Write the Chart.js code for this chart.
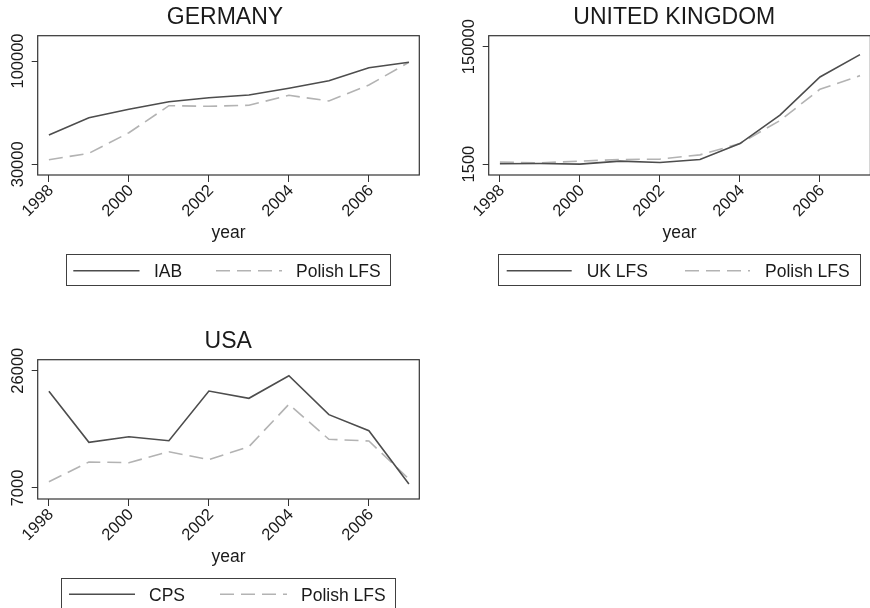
<!DOCTYPE html>
<html><head><meta charset="utf-8">
<script src="https://cdn.jsdelivr.net/npm/chart.js@4.4.1/dist/chart.umd.min.js"></script>
<style>
html,body{margin:0;padding:0;background:#fff;overflow:hidden;}
#page{position:relative;width:870px;height:608px;overflow:hidden;background:#fff;}
canvas{position:absolute;}
.legend{position:absolute;box-sizing:border-box;border:1px solid #404040;}
.lt{position:absolute;font-family:"Liberation Sans",Arial,Helvetica,sans-serif;font-size:17.5px;color:#1a1a1a;line-height:20px;white-space:nowrap;}
#ls{position:absolute;left:0;top:0;}
</style></head><body><div id="page">
<canvas id="cDE" width="450" height="245" style="left:0px;top:0px"></canvas>
<canvas id="cUK" width="450" height="245" style="left:451px;top:0px"></canvas>
<canvas id="cUS" width="450" height="245" style="left:0px;top:324px"></canvas>
<svg id="ls" width="870" height="608"></svg>
</div>
<script>
// ---- data ----
const years = [1998, 1999, 2000, 2001, 2002, 2003, 2004, 2005, 2006, 2007];
const xTickValues = [1998, 2000, 2002, 2004, 2006];

const deTitle = 'GERMANY';
const deNames = ['IAB', 'Polish LFS'];
const deIAB = [49850, 61570, 67270, 72420, 75130, 76960, 81500, 86650, 95460, 99120];
const dePolishLFS = [33110, 37450, 51410, 69710, 69300, 69980, 76760, 72890, 83740, 99120];
const deYTicks = [30000, 100000];

const ukTitle = 'UNITED KINGDOM';
const ukNames = ['UK LFS', 'Polish LFS'];
const ukLFS = [1900, 2200, 1500, 5300, 3500, 7300, 27500, 63400, 111700, 139900];
const ukPolishLFS = [4000, 3100, 5300, 7300, 7800, 13200, 27500, 56600, 96200, 113400];
const ukYTicks = [1500, 150000];

const usTitle = 'USA';
const usNames = ['CPS', 'Polish LFS'];
const usCPS = [22670, 14400, 15310, 14660, 22710, 21530, 25190, 18880, 16280, 7650];
const usPolishLFS = [8020, 11210, 11100, 12880, 11590, 13690, 20560, 14890, 14610, 8460];
const usYTicks = [7000, 26000];

const xAxisTitle = 'year';

// ---- styles ----
const FONT = '"Liberation Sans", Arial, Helvetica, sans-serif';
const SOLID = '#4d4d4d';
const DASH = '#b3b3b3';
const AXIS = '#333333';
const TXT = '#1a1a1a';
const DASHPAT = [14, 7];
const TICKSIZE = 16.5;

function measure(txt, size) {
  const c = document.createElement('canvas').getContext('2d');
  c.font = size + 'px ' + FONT;
  return c.measureText(txt).width;
}

const boxPlugin = {
  id: 'plotbox',
  afterDatasetsDraw(chart) {
    const {ctx, chartArea: a} = chart;
    ctx.save();
    ctx.strokeStyle = AXIS;
    ctx.lineWidth = 1.2;
    ctx.strokeRect(a.left, a.top, a.right - a.left, a.bottom - a.top);
    ctx.restore();
  }
};

function makeChart(id, cfg) {
  const widest = Math.max(...cfg.yTicks.map(t => measure(String(t), TICKSIZE)));
  const chartLeft = cfg.padL + cfg.yW;
  const yPad = chartLeft - 6 - 18.3 - widest / 2;
  return new Chart(document.getElementById(id), {
    type: 'line',
    data: {
      datasets: [
        { label: cfg.names[0], data: years.map((x, i) => ({x, y: cfg.a[i]})),
          borderColor: SOLID, borderWidth: 1.6, pointRadius: 0, tension: 0, fill: false },
        { label: cfg.names[1], data: years.map((x, i) => ({x, y: cfg.b[i]})),
          borderColor: DASH, borderWidth: 1.6, borderDash: DASHPAT, pointRadius: 0, tension: 0, fill: false }
      ]
    },
    options: {
      responsive: false, animation: false, devicePixelRatio: 1,
      layout: { padding: { left: cfg.padL, right: cfg.padR, top: 0, bottom: 0 } },
      plugins: {
        legend: { display: false },
        tooltip: { enabled: false },
        title: { display: true, text: cfg.title, color: TXT,
                 font: { family: FONT, size: 23, weight: 'normal' },
                 padding: { top: 4.2, bottom: 3.9 } }
      },
      scales: {
        x: {
          type: 'linear', min: 1997.72, max: 2007.26, bounds: 'data',
          afterBuildTicks: s => { s.ticks = xTickValues.map(v => ({value: v})); },
          afterFit: s => { s.height = 70; },
          ticks: { autoSkip: false, minRotation: 45, maxRotation: 45, labelOffset: 2, padding: -1,
                   font: { family: FONT, size: TICKSIZE }, color: TXT, callback: v => String(v) },
          grid: { display: true, drawOnChartArea: false, drawTicks: true, tickLength: 7, tickColor: AXIS, lineWidth: 1 },
          border: { display: false },
          title: { display: true, text: xAxisTitle, color: TXT,
                   font: { family: FONT, size: 17.5 }, padding: { top: 0, bottom: 1.5 } }
        },
        y: {
          type: 'linear', min: cfg.ymin, max: cfg.ymax, bounds: 'data',
          afterBuildTicks: s => { s.ticks = cfg.yTicks.map(v => ({value: v})); },
          afterFit: s => { s.width = cfg.yW; },
          ticks: { autoSkip: false, minRotation: 90, maxRotation: 90, crossAlign: 'center', padding: yPad,
                   font: { family: FONT, size: TICKSIZE }, color: TXT, callback: v => String(v) },
          grid: { display: true, drawOnChartArea: false, drawTicks: true, tickLength: 6, tickColor: AXIS, lineWidth: 1 },
          border: { display: false }
        },
        yr: {
          type: 'linear', position: 'right', display: true,
          afterFit: s => { s.width = cfg.rW; },
          ticks: { display: false },
          grid: { display: false },
          border: { display: false }
        }
      }
    },
    plugins: [boxPlugin]
  });
}

makeChart('cDE', { title: deTitle, names: deNames, a: deIAB, b: dePolishLFS, yTicks: deYTicks,
  ymin: 22749, ymax: 117146, padL: 7.7, yW: 30, rW: 23, padR: 7.7 });
makeChart('cUK', { title: ukTitle, names: ukNames, a: ukLFS, b: ukPolishLFS, yTicks: ukYTicks,
  ymin: -12300, ymax: 163900, padL: 7.7, yW: 30, rW: 19.4, padR: 11.2 });
makeChart('cUS', { title: usTitle, names: usNames, a: usCPS, b: usPolishLFS, yTicks: usYTicks,
  ymin: 5218, ymax: 27782, padL: 7.7, yW: 30, rW: 29.4, padR: 1.3 });

// ---- legends (HTML) ----
const legends = [
  { names: deNames, box: [65.7, 254.2, 325.3, 31.6], y: 270.7, s: [73.3, 139.5], t1: 154, d: [216, 282], t2: 296 },
  { names: ukNames, box: [498, 254.2, 362.7, 31.6], y: 270.7, s: [506.7, 571.7], t1: 586.7, d: [685, 750], t2: 765 },
  { names: usNames, box: [61, 577.7, 335, 36], y: 594.3, s: [69, 135], t1: 149, d: [220, 287], t2: 301 }
];
const page = document.getElementById('page');
const svg = document.getElementById('ls');
let svgInner = '';
legends.forEach(L => {
  const b = document.createElement('div');
  b.className = 'legend';
  b.style.left = L.box[0] + 'px'; b.style.top = L.box[1] + 'px';
  b.style.width = L.box[2] + 'px'; b.style.height = L.box[3] + 'px';
  page.appendChild(b);
  svgInner += `<line x1="${L.s[0]}" y1="${L.y}" x2="${L.s[1]}" y2="${L.y}" stroke="${SOLID}" stroke-width="1.6"/>`;
  svgInner += `<line x1="${L.d[0]}" y1="${L.y}" x2="${L.d[1]}" y2="${L.y}" stroke="${DASH}" stroke-width="1.6" stroke-dasharray="${DASHPAT.join(' ')}"/>`;
  [[L.names[0], L.t1], [L.names[1], L.t2]].forEach(([txt, x]) => {
    const s = document.createElement('span');
    s.className = 'lt';
    s.textContent = txt;
    s.style.left = x + 'px';
    s.style.top = (L.y - 9.8) + 'px';
    page.appendChild(s);
  });
});
svg.innerHTML = svgInner;
</script>
</body></html>
